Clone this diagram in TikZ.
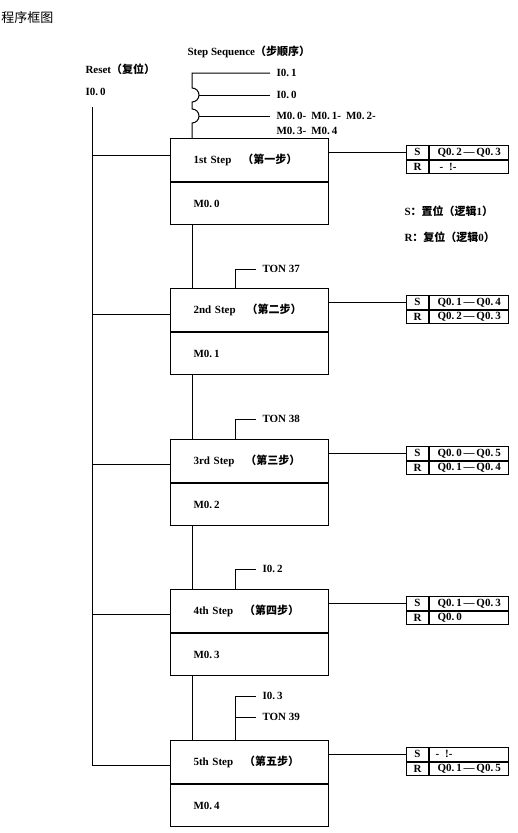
\documentclass[tikz,border=0pt]{standalone}
\usepackage{fontspec}
\setmainfont{Liberation Serif}
\newfontfamily\cjk{Noto Sans CJK SC}
\newcommand\zh[1]{{\cjk #1}}
\newcommand\pd{.\kern2pt}
\begin{document}
\begin{tikzpicture}[x=1pt,y=-1pt,line width=1pt,
  txt/.style={font=\bfseries\fontsize{11}{15}\selectfont,inner sep=1pt},
  lab/.style={txt,anchor=west,inner xsep=6pt},
  stepbox/.style={draw,txt,anchor=north west,minimum width=158pt,minimum height=43pt,
     text width=112pt,align=left,inner xsep=23pt,inner ysep=0pt},
  membox/.style={stepbox,minimum height=42pt},
  srk/.style={draw,txt,anchor=north west,minimum width=22pt,minimum height=13.5pt,inner sep=0pt},
  srv/.style={draw,txt,anchor=north west,minimum width=79pt,minimum height=13.5pt,
     text width=67pt,align=left,inner xsep=6pt,inner ysep=0pt}]
\useasboundingbox (0,0) rectangle (517,833);

% title and headings
\node[anchor=west,inner sep=0pt,font=\fontsize{13}{14}\selectfont] (title) at (1,18) {\zh{程序框图}};
\node[txt,anchor=west] (seqhd) at (186,52) {Step Sequence\zh{（步顺序）}};
\node[txt,anchor=west] (rsthd) at (84,69) {Reset\zh{（复位）}};
\node[txt,anchor=west] (rstin) at (84,92) {I0\pd 0};

% step boxes
\node[stepbox] (s1) at (170,138) {1st Step\hspace{11pt}\zh{（第一步）}};
\node[membox] (m1) at (s1.south west) {M0\pd 0};
\node[stepbox] (s2) at (170,288) {2nd Step\hspace{11pt}\zh{（第二步）}};
\node[membox] (m2) at (s2.south west) {M0\pd 1};
\node[stepbox] (s3) at (170,439) {3rd Step\hspace{11pt}\zh{（第三步）}};
\node[membox] (m3) at (s3.south west) {M0\pd 2};
\node[stepbox] (s4) at (170,589) {4th Step\hspace{11pt}\zh{（第四步）}};
\node[membox] (m4) at (s4.south west) {M0\pd 3};
\node[stepbox] (s5) at (170,740) {5th Step\hspace{11pt}\zh{（第五步）}};
\node[membox] (m5) at (s5.south west) {M0\pd 4};

% S/R tables
\node[srk] (k1s) at (406,145) {S};
\node[srv] (v1s) at (k1s.north east) {\hspace{2pt}Q0\pd 2\,—\,Q0\pd 3};
\node[srk] (k1r) at (k1s.south west) {R};
\node[srv] (v1r) at (k1s.south east) {\hspace{4pt}-\hspace{6pt}!-};

\node[srk] (k2s) at (406,295) {S};
\node[srv] (v2s) at (k2s.north east) {\hspace{2pt}Q0\pd 1\,—\,Q0\pd 4};
\node[srk] (k2r) at (k2s.south west) {R};
\node[srv] (v2r) at (k2s.south east) {\hspace{2pt}Q0\pd 2\,—\,Q0\pd 3};

\node[srk] (k3s) at (406,446) {S};
\node[srv] (v3s) at (k3s.north east) {\hspace{2pt}Q0\pd 0\,—\,Q0\pd 5};
\node[srk] (k3r) at (k3s.south west) {R};
\node[srv] (v3r) at (k3s.south east) {\hspace{2pt}Q0\pd 1\,—\,Q0\pd 4};

\node[srk] (k4s) at (406,596) {S};
\node[srv] (v4s) at (k4s.north east) {\hspace{2pt}Q0\pd 1\,—\,Q0\pd 3};
\node[srk] (k4r) at (k4s.south west) {R};
\node[srv] (v4r) at (k4s.south east) {\hspace{2pt}Q0\pd 0};

\node[srk] (k5s) at (406,747) {S};
\node[srv] (v5s) at (k5s.north east) {-\hspace{6pt}!-};
\node[srk] (k5r) at (k5s.south west) {R};
\node[srv] (v5r) at (k5s.south east) {\hspace{2pt}Q0\pd 1\,—\,Q0\pd 5};

\foreach \i in {1,...,5} {
  \draw (s\i.east |- k\i s.west) -- (k\i s.west);
}

% legend
\node[txt,anchor=west] (legS) at (403,211) {S\zh{：置位（逻辑}1\zh{）}};
\node[txt,anchor=west] (legR) at (403,237) {R\zh{：复位（逻辑}0\zh{）}};

% reset rail
\coordinate (rtop) at (92,107);
\coordinate (rbot) at (92,765);
\draw (rtop) -- (rbot) -- (rbot -| s5.west);
\foreach \i/\y in {1/155,2/314,3/464,4/614} {
  \draw (92,\y) -- (s\i.west |- 0,\y);
}

% step sequence input lines
\coordinate (seqx) at (192,0);
\node[lab] (l01) at (270,73) {I0\pd 1};
\node[lab] (l00) at (270,95) {I0\pd 0};
\node[lab] (lm1) at (270,116) {M0\pd 0-\hspace{5pt}M0\pd 1-\hspace{5pt}M0\pd 2-};
\node[lab] (lm2) at (270,131) {M0\pd 3-\hspace{5pt}M0\pd 4};
\draw (l01.west) -- (192,73) -- (192,88) arc[start angle=90,end angle=-90,radius=7pt]
  -- (192,109) arc[start angle=90,end angle=-90,radius=7pt] -- (s1.north -| seqx);
\draw (199,95) -- (l00.west);
\draw (199,116) -- (lm1.west);

% sequence between steps
\foreach \i/\j in {1/2,2/3,3/4,4/5} {
  \draw (m\i.south -| seqx) -- (s\j.north -| seqx);
}

% transition conditions
\coordinate (tx) at (235,0);
\node[lab] (t2) at (256,269) {TON 37};
\node[lab] (t3) at (256,419) {TON 38};
\node[lab] (t4) at (256,569) {I0\pd 2};
\node[lab] (t5a) at (256,696) {I0\pd 3};
\node[lab] (t5b) at (256,717) {TON 39};
\foreach \i in {2,3,4} {
  \draw (s\i.north -| tx) -- (tx |- t\i.west) -- (t\i.west);
}
\draw (s5.north -| tx) -- (tx |- t5a.west) -- (t5a.west);
\draw (tx |- t5b.west) -- (t5b.west);
\end{tikzpicture}
\end{document}
